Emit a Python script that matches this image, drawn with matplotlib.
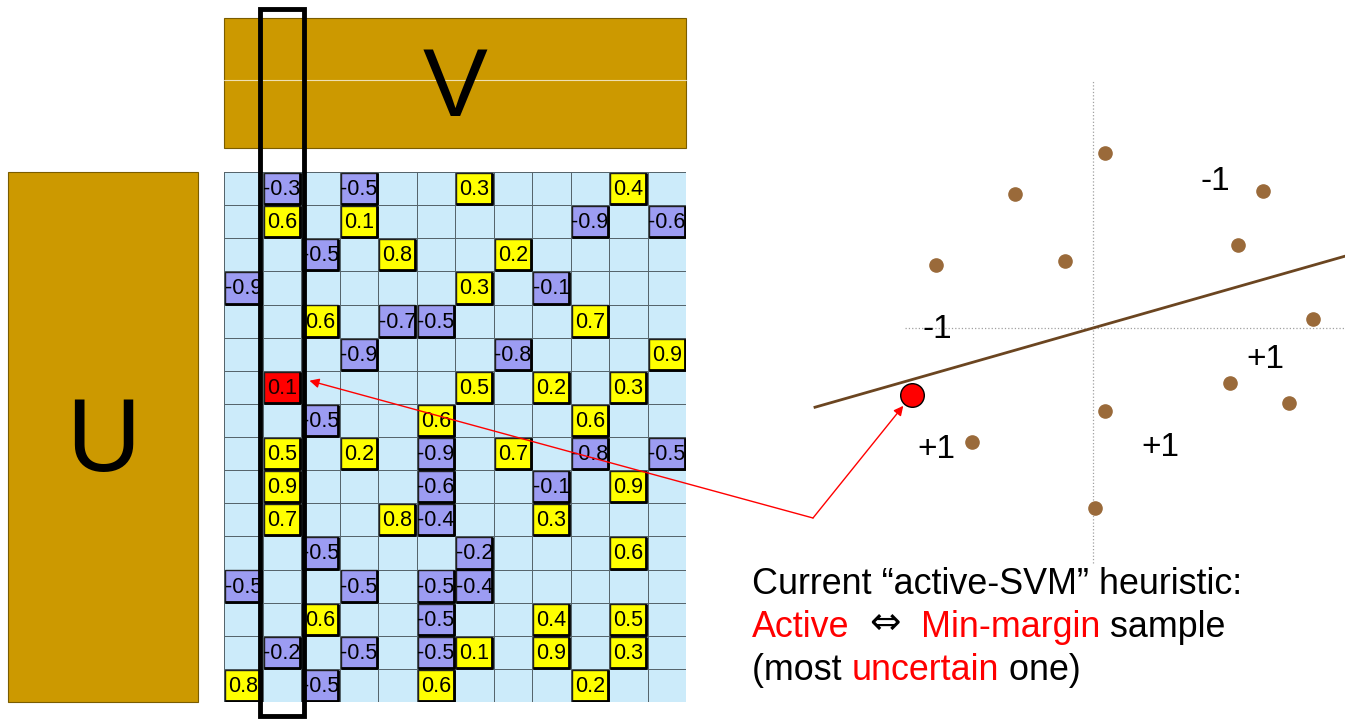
import matplotlib
matplotlib.use("Agg")
import matplotlib.pyplot as plt
from matplotlib.patches import Rectangle
from matplotlib.colors import ListedColormap
import numpy as np

plt.rcParams['font.family'] = ['Liberation Sans', 'DejaVu Sans']

W, H = 1345, 721

# rating matrix: observed entries (row, col, value) on a 16 x 12 grid
n_rows, n_cols = 16, 12
cell_row = [0, 0, 0, 0,
            1, 1, 1, 1,
            2, 2, 2,
            3, 3, 3,
            4, 4, 4, 4,
            5, 5, 5,
            6, 6, 6, 6,
            7, 7, 7,
            8, 8, 8, 8, 8, 8,
            9, 9, 9, 9,
            10, 10, 10, 10,
            11, 11, 11,
            12, 12, 12, 12,
            13, 13, 13, 13,
            14, 14, 14, 14, 14, 14,
            15, 15, 15, 15]
cell_col = [1, 3, 6, 10,
            1, 3, 9, 11,
            2, 4, 7,
            0, 6, 8,
            2, 4, 5, 9,
            3, 7, 11,
            1, 6, 8, 10,
            2, 5, 9,
            1, 3, 5, 7, 9, 11,
            1, 5, 8, 10,
            1, 4, 5, 8,
            2, 6, 10,
            0, 3, 5, 6,
            2, 5, 8, 10,
            1, 3, 5, 6, 8, 10,
            0, 2, 5, 9]
cell_val = [-0.3, -0.5, 0.3, 0.4,
            0.6, 0.1, -0.9, -0.6,
            -0.5, 0.8, 0.2,
            -0.9, 0.3, -0.1,
            0.6, -0.7, -0.5, 0.7,
            -0.9, -0.8, 0.9,
            0.1, 0.5, 0.2, 0.3,
            -0.5, 0.6, 0.6,
            0.5, 0.2, -0.9, 0.7, -0.8, -0.5,
            0.9, -0.6, -0.1, 0.9,
            0.7, 0.8, -0.4, 0.3,
            -0.5, -0.2, 0.6,
            -0.5, -0.5, -0.5, -0.4,
            0.6, -0.5, 0.4, 0.5,
            -0.2, -0.5, -0.5, 0.1, 0.9, 0.3,
            0.8, -0.5, 0.6, 0.2]
active_cell = (6, 1)

# SVM toy example (origin at the axes crossing)
pts_x = [0.24, -1.56, 3.40, 2.90, -3.14, -0.56, 4.40, 2.74, 3.92, 0.24, -2.42, 0.04]
pts_y = [3.50, 2.68, 2.74, 1.66, 1.26, 1.34, 0.18, -1.10, -1.50, -1.66, -2.28, -3.60]
active_pt = (-3.62, -1.34)
boundary_slope = 0.285
boundary_x = [-5.56, 5.04]
region_labels = ["-1", "-1", "+1", "+1", "+1"]
region_x = [2.44, -3.12, 3.44, -3.14, 1.34]
region_y = [2.92, -0.04, -0.64, -2.44, -2.38]

GOLD = "#CC9900"
CELL_BG = "#CCEBFA"
POS = "#FFFF00"
NEG = "#9C9CF2"
RED = "#FF0000"
DOT = "#9A6A3A"


def px_axes(fig, x0, y0, x1, y1):
    ax = fig.add_axes([x0 / W, 1 - y1 / H, (x1 - x0) / W, (y1 - y0) / H])
    ax.axis("off")
    return ax


fig = plt.figure(figsize=(W / 100, H / 100), dpi=100)

# U and V factor blocks
base = px_axes(fig, 0, 0, W, H)
base.set_xlim(0, W)
base.set_ylim(H, 0)
base.add_patch(Rectangle((224, 18), 462, 130, fc=GOLD, ec="#7a5c00", lw=0.8))
base.plot([224, 686], [80, 80], color="white", lw=0.8, alpha=0.7)
base.text(455, 91, "V", fontsize=70, ha="center", va="center")
base.add_patch(Rectangle((8, 172), 190, 530, fc=GOLD, ec="#7a5c00", lw=0.8))
base.text(103, 444, "U", fontsize=74, ha="center", va="center")

# rating grid
gax = px_axes(fig, 224, 172, 686, 702)
gax.set_xlim(0, n_cols)
gax.set_ylim(n_rows, 0)
gax.pcolormesh(np.zeros((n_rows, n_cols)), cmap=ListedColormap([CELL_BG]),
               edgecolors="#56656c", linewidth=0.6)
for r, c, v in zip(cell_row, cell_col, cell_val):
    fc = POS if v > 0 else NEG
    if (r, c) == active_cell:
        fc = RED
    gax.add_patch(Rectangle((c + 0.03, r + 0.03), 0.94, 0.94, fc=fc,
                            ec="#202020", lw=1.0))
    # heavier right / bottom edge
    gax.plot([c + 0.97, c + 0.97, c + 0.03], [r + 0.03, r + 0.97, r + 0.97],
             color="black", lw=2, solid_capstyle="butt")
    gax.text(c + 0.5, r + 0.53, f"{v:.1f}", fontsize=15.5, ha="center",
             va="center", color="#1a0000" if (r, c) == active_cell else "black")

# SVM panel
sax = px_axes(fig, 800, 60, W, 570)
sax.set_xlim(-5.86, 5.04)
sax.set_ylim(-4.84, 5.36)
sax.plot([0, 0], [-4.7, 4.96], color="#a0a0a0", ls=":", lw=0.9)
sax.plot([-3.76, 5.04], [0, 0], color="#a0a0a0", ls=":", lw=0.9)
bx = np.array(boundary_x)
sax.plot(bx, boundary_slope * bx, color="#6B4520", lw=2)
sax.plot(pts_x, pts_y, "o", ms=9.5, color=DOT, mec=DOT)
sax.plot(*active_pt, "o", ms=17, color=RED, mec="black", mew=1)
for lab, x, y in zip(region_labels, region_x, region_y):
    sax.text(x, y, lab, fontsize=24, ha="center", va="center")

# overlay: selected column and arrows
top = px_axes(fig, 0, 0, W, H)
top.set_xlim(0, W)
top.set_ylim(H, 0)
top.add_patch(Rectangle((260, 9), 44, 707, fill=False, ec="black", lw=3.5))
start = (813, 518)
top.annotate("", xy=(active_cell[1] + 1.22, active_cell[0] + 0.3),
             xycoords=gax.transData, xytext=start, textcoords=top.transData,
             arrowprops=dict(arrowstyle="-|>", color=RED, lw=1,
                             mutation_scale=14, shrinkA=0, shrinkB=0))
top.annotate("", xy=active_pt, xycoords=sax.transData, xytext=start,
             textcoords=top.transData,
             arrowprops=dict(arrowstyle="-|>", color=RED, lw=1,
                             mutation_scale=14, shrinkA=0, shrinkB=10))

# caption with mixed colours
caption = [
    [("Current \u201cactive-SVM\u201d heuristic:", "black", 25.8)],
    [("Active", RED, 25.8), ("  ", "black", 25.8), ("\u21d4", "black", 27),
     ("  ", "black", 25.8), ("Min-margin", RED, 25.8), (" sample", "black", 25.8)],
    [("(most ", "black", 25.8), ("uncertain", RED, 25.8), (" one)", "black", 25.8)],
]
renderer = fig.canvas.get_renderer()
for i, line in enumerate(caption):
    x = 752
    y = 594 + i * 43
    for piece, col, fs in line:
        fam = ["DejaVu Sans"] if piece == "\u21d4" else ["Liberation Sans", "DejaVu Sans"]
        t = top.text(x, y - (3 if piece == "\u21d4" else 0), piece, fontsize=fs,
                     color=col, ha="left", va="baseline", family=fam)
        x += t.get_window_extent(renderer).width

fig.savefig("out.png", dpi=100)
